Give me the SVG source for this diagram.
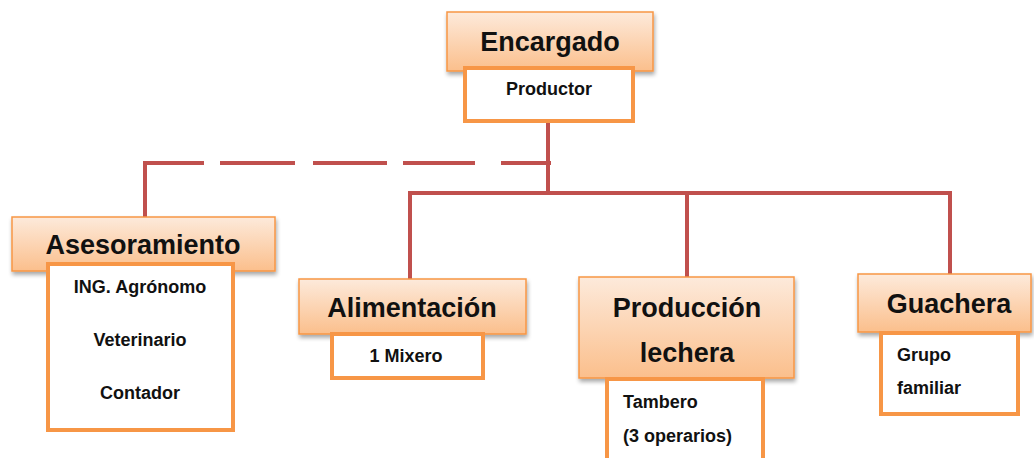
<svg xmlns="http://www.w3.org/2000/svg" width="1034" height="458" viewBox="0 0 1034 458">
<defs>
<linearGradient id="hdr" x1="0" y1="0" x2="0" y2="1">
<stop offset="0" stop-color="#fdeadb"/>
<stop offset="1" stop-color="#fbbf8c"/>
</linearGradient>
<filter id="sh" x="-10%" y="-10%" width="120%" height="130%">
<feGaussianBlur in="SourceAlpha" stdDeviation="2"/>
<feOffset dx="1" dy="3" result="b"/>
<feComponentTransfer><feFuncA type="linear" slope="0.35"/></feComponentTransfer>
<feMerge><feMergeNode/><feMergeNode in="SourceGraphic"/></feMerge>
</filter>
</defs>
<style>
.hdr{fill:url(#hdr);stroke:#f79646;stroke-width:1.5;filter:url(#sh)}
.sub{fill:#fff;stroke:#f79646;stroke-width:4}
.t{font-family:"Liberation Sans",Arial,sans-serif;font-weight:bold;fill:#111}
.big{font-size:27px;text-anchor:middle}
.sm{font-size:18px}
.c{text-anchor:middle}
.ln{fill:none;stroke:#c0504d;stroke-width:4}
</style>
<rect width="1034" height="458" fill="#fff"/>
<g id="connectors">
<path class="ln" d="M548 121 V193 M410 279 V193 H950 V274 M687 193 V277"/>
<path class="ln" d="M145 217 V163 H204"/>
<path class="ln" d="M220 163 H551" stroke-dasharray="75 18 74 16 72 26 50 100"/>
</g>
<g id="encargado">
<rect class="hdr" x="447" y="12" width="206" height="59"/>
<text class="t big" x="550" y="51">Encargado</text>
<rect class="sub" x="465" y="68" width="168" height="53"/>
<text class="t sm c" x="549" y="95">Productor</text>
</g>
<g id="asesoramiento">
<rect class="hdr" x="12" y="217" width="263" height="54"/>
<text class="t big" x="143" y="254">Asesoramiento</text>
<rect class="sub" x="48" y="264" width="185" height="166"/>
<text class="t sm c" x="140" y="293">ING. Agrónomo</text>
<text class="t sm c" x="140" y="346">Veterinario</text>
<text class="t sm c" x="140" y="399">Contador</text>
</g>
<g id="alimentacion">
<rect class="hdr" x="299" y="279" width="227" height="55"/>
<text class="t big" x="412" y="317">Alimentación</text>
<rect class="sub" x="332" y="334" width="151" height="44"/>
<text class="t sm c" x="406" y="362">1 Mixero</text>
</g>
<g id="produccion">
<rect class="hdr" x="579" y="277" width="215" height="101"/>
<text class="t big" x="687" y="317">Producción</text>
<text class="t big" x="687" y="362">lechera</text>
<rect class="sub" x="607" y="379" width="156" height="85"/>
<text class="t sm" x="623" y="408">Tambero</text>
<text class="t sm" x="623" y="442">(3 operarios)</text>
</g>
<g id="guachera">
<rect class="hdr" x="858" y="274" width="173" height="58"/>
<text class="t big" x="949" y="313">Guachera</text>
<rect class="sub" x="881" y="333" width="137" height="81"/>
<text class="t sm" x="897" y="361">Grupo</text>
<text class="t sm" x="897" y="394">familiar</text>
</g>
</svg>
